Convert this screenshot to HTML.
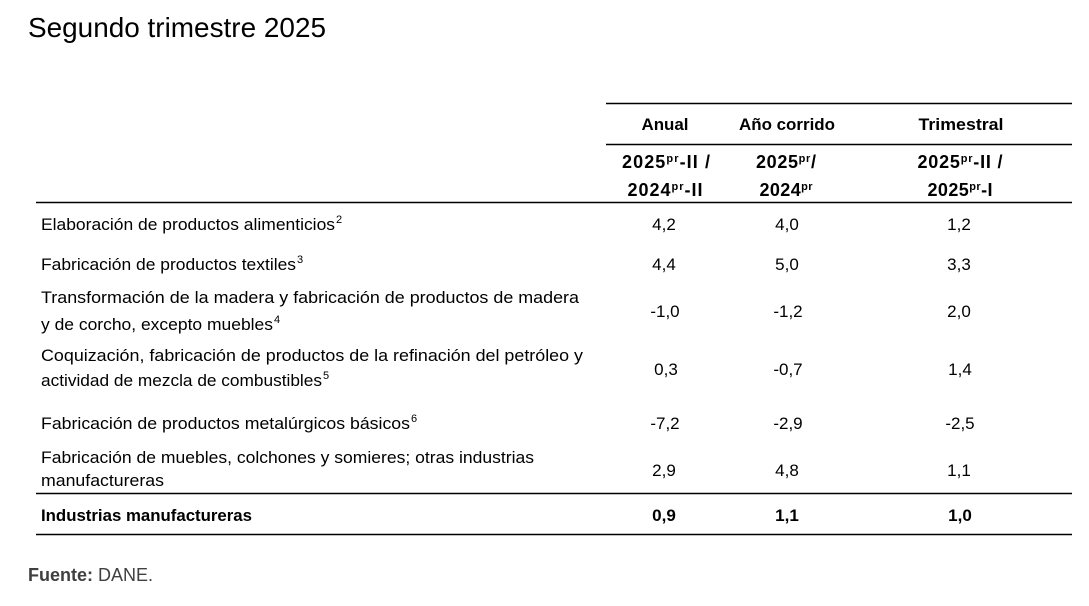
<!DOCTYPE html>
<html>
<head>
<meta charset="utf-8">
<style>
  html, body { margin:0; padding:0; background:#fff; }
  svg { display:block; }
  text { font-family: "Liberation Sans", Arial, sans-serif; fill:#000; }
</style>
</head>
<body>
<svg width="1089" height="606" viewBox="0 0 1089 606" xmlns="http://www.w3.org/2000/svg">
  <rect width="1089" height="606" fill="#fff"/>

  <!-- Title -->
  <text x="28" y="37" font-size="28" textLength="298" lengthAdjust="spacingAndGlyphs">Segundo trimestre 2025</text>

  <!-- Rules -->
  <g stroke="#000" stroke-width="1.4">
    <line x1="606" y1="103.5" x2="1072" y2="103.5"/>
    <line x1="606" y1="144.5" x2="1072" y2="144.5"/>
    <line x1="36" y1="202.5" x2="1072" y2="202.5"/>
    <line x1="36" y1="493.5" x2="1072" y2="493.5"/>
    <line x1="36" y1="534.5" x2="1072" y2="534.5"/>
  </g>

  <!-- Header row 1 -->
  <g font-weight="bold" font-size="17" text-anchor="middle">
    <text x="665" y="130" textLength="47" lengthAdjust="spacingAndGlyphs">Anual</text>
    <text x="787" y="130" textLength="96" lengthAdjust="spacingAndGlyphs">Año corrido</text>
    <text x="961" y="130" textLength="85" lengthAdjust="spacingAndGlyphs">Trimestral</text>
  </g>

  <!-- Header row 2 -->
  <g font-weight="bold" font-size="18" text-anchor="middle">
    <text x="666" y="168" textLength="88" lengthAdjust="spacing">2025<tspan font-size="11" dy="-6">pr</tspan><tspan dy="6">-II /</tspan></text>
    <text x="665" y="196" textLength="75" lengthAdjust="spacing">2024<tspan font-size="11" dy="-6">pr</tspan><tspan dy="6">-II</tspan></text>
    <text x="786" y="168" textLength="60" lengthAdjust="spacing">2025<tspan font-size="11" dy="-6">pr</tspan><tspan dy="6">/</tspan></text>
    <text x="786" y="196" textLength="53" lengthAdjust="spacing">2024<tspan font-size="11" dy="-6">pr</tspan></text>
    <text x="960" y="168" textLength="85" lengthAdjust="spacing">2025<tspan font-size="11" dy="-6">pr</tspan><tspan dy="6">-II /</tspan></text>
    <text x="960" y="196" textLength="65" lengthAdjust="spacing">2025<tspan font-size="11" dy="-6">pr</tspan><tspan dy="6">-I</tspan></text>
  </g>

  <!-- Row labels -->
  <g font-size="17">
    <text x="41" y="230" textLength="294" lengthAdjust="spacingAndGlyphs">Elaboración de productos alimenticios</text>
    <text x="336" y="223" font-size="11">2</text>

    <text x="41" y="270" textLength="255" lengthAdjust="spacingAndGlyphs">Fabricación de productos textiles</text>
    <text x="297" y="263" font-size="11">3</text>

    <text x="41" y="303" textLength="538" lengthAdjust="spacingAndGlyphs">Transformación de la madera y fabricación de productos de madera</text>
    <text x="41" y="330" textLength="232" lengthAdjust="spacingAndGlyphs">y de corcho, excepto muebles</text>
    <text x="274" y="323" font-size="11">4</text>

    <text x="41" y="361" textLength="542" lengthAdjust="spacingAndGlyphs">Coquización, fabricación de productos de la refinación del petróleo y</text>
    <text x="41" y="386" textLength="281" lengthAdjust="spacingAndGlyphs">actividad de mezcla de combustibles</text>
    <text x="323" y="379" font-size="11">5</text>

    <text x="41" y="429" textLength="369" lengthAdjust="spacingAndGlyphs">Fabricación de productos metalúrgicos básicos</text>
    <text x="411" y="422" font-size="11">6</text>

    <text x="41" y="463" textLength="493" lengthAdjust="spacingAndGlyphs">Fabricación de muebles, colchones y somieres; otras industrias</text>
    <text x="41" y="486" textLength="123" lengthAdjust="spacingAndGlyphs">manufactureras</text>

    <text x="41" y="521" font-weight="bold" textLength="211" lengthAdjust="spacingAndGlyphs">Industrias manufactureras</text>
  </g>

  <!-- Values -->
  <g font-size="17" text-anchor="middle">
    <text x="664" y="230">4,2</text>
    <text x="787" y="230">4,0</text>
    <text x="959" y="230">1,2</text>

    <text x="664" y="270">4,4</text>
    <text x="787" y="270">5,0</text>
    <text x="959" y="270">3,3</text>

    <text x="665" y="317">-1,0</text>
    <text x="788" y="317">-1,2</text>
    <text x="959" y="317">2,0</text>

    <text x="666" y="375">0,3</text>
    <text x="788" y="375">-0,7</text>
    <text x="960" y="375">1,4</text>

    <text x="665" y="429">-7,2</text>
    <text x="788" y="429">-2,9</text>
    <text x="960" y="429">-2,5</text>

    <text x="664" y="476">2,9</text>
    <text x="787" y="476">4,8</text>
    <text x="959" y="476">1,1</text>
  </g>
  <g font-size="17" font-weight="bold" text-anchor="middle">
    <text x="664" y="521">0,9</text>
    <text x="787" y="521">1,1</text>
    <text x="960" y="521">1,0</text>
  </g>

  <!-- Source -->
  <text x="28" y="581" font-size="18" style="fill:#404040"><tspan font-weight="bold">Fuente:</tspan> DANE.</text>
</svg>
</body>
</html>
